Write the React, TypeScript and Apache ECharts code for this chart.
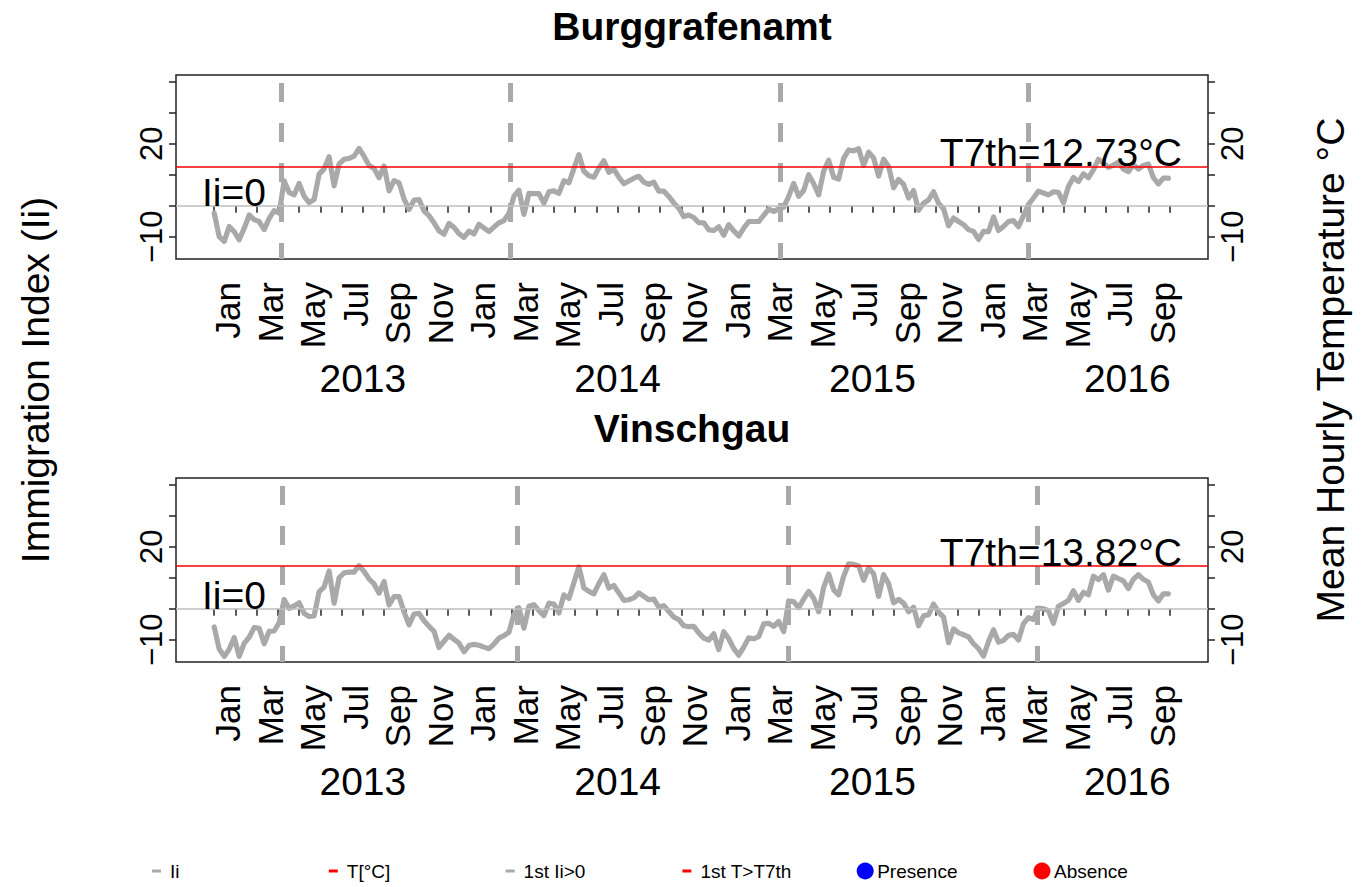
import React, { useEffect, useRef } from 'react';
import * as echarts from 'echarts';

// ---------- data ----------
const DAY = 86400000;
const SERIES_START = '2013-01-01'; // weekly samples from this date
const AXIS_START = '2013-01-01';
const AXIS_END = '2016-09-01';

const regions = ['Burggrafenamt', 'Vinschgau'];
const t7th = [12.73, 13.82];

// weekly Immigration Index values, Burggrafenamt
const burgIi = [
  -2.4, -10.0, -11.5, -6.7, -8.4, -11.0, -7.3, -3.0, -4.5, -5.1,
  -7.7, -4.1, -1.6, -2.4, 8.0, 4.3, 3.5, 7.2, 3.0, 1.0,
  2.0, 10.2, 11.9, 15.8, 6.4, 13.5, 15.0, 15.3, 16.0, 18.5,
  15.9, 13.0, 12.0, 9.0, 12.8, 4.8, 8.1, 7.4, 2.2, -1.2,
  1.8, 2.0, -1.7, -3.2, -5.5, -8.1, -9.2, -5.7, -7.0, -9.0,
  -10.2, -8.2, -9.1, -6.0, -7.2, -8.3, -6.9, -5.5, -4.8, -2.5,
  3.1, 5.0, -2.8, 4.0, 3.9, 3.9, 0.8, 4.5, 4.8, 4.0,
  8.1, 7.4, 12.0, 16.5, 11.1, 9.7, 9.2, 12.2, 14.5, 10.8,
  11.8, 9.2, 7.1, 8.0, 8.9, 9.5, 7.6, 6.9, 7.6, 4.7,
  4.7, 3.0, 0.9, -0.8, -3.5, -3.0, -3.8, -5.5, -5.5, -7.8,
  -8.0, -6.8, -9.5, -6.1, -8.1, -9.8, -7.2, -5.1, -5.1, -5.1,
  -3.1, -1.1, -1.8, -1.0, -0.5, 3.0, 7.2, 3.0, 4.9, 10.0,
  7.1, 3.5, 11.2, 14.7, 9.2, 8.6, 15.3, 18.0, 17.7, 18.4,
  13.0, 17.3, 15.4, 9.6, 15.0, 12.7, 5.8, 8.5, 6.9, 2.5,
  4.9, -1.5, 0.8, 1.9, 4.5, 0.8, -1.0, -6.5, -4.0, -5.1,
  -6.1, -7.7, -8.3, -10.9, -8.3, -8.4, -3.6, -8.0, -6.7, -5.1,
  -4.8, -6.8, -3.2, 0.4, 2.5, 4.7, 4.1, 3.5, 4.5, 4.3,
  1.0, 6.2, 9.1, 7.8, 10.3, 9.0, 11.6, 15.0, 13.7, 12.4,
  13.1, 14.0, 11.8, 11.0, 13.3, 11.8, 13.0, 13.5, 9.1, 7.0,
  8.9, 8.9,
];

// weekly Immigration Index values, Vinschgau
const vinIi = [
  -5.9, -13.0, -15.4, -13.1, -9.3, -15.4, -11.2, -9.2, -6.1, -6.3,
  -11.3, -7.3, -7.2, -4.5, 3.0, 0.1, 0.9, 1.9, -1.5, -2.5,
  -2.3, 5.5, 7.0, 12.2, 1.8, 10.0, 11.6, 11.8, 11.8, 13.9,
  12.0, 9.6, 8.0, 5.0, 8.8, 1.2, 3.9, 3.9, -1.0, -5.2,
  -1.7, -1.5, -3.9, -5.7, -7.3, -12.5, -10.5, -8.6, -9.9, -11.1,
  -13.9, -11.9, -11.5, -11.8, -12.4, -12.9, -11.4, -9.5, -8.7, -7.6,
  -1.8, 0.3, -6.3, 0.8, 1.3, -0.6, -2.2, 1.8, 1.5, -1.4,
  4.5, 3.3, 8.4, 13.5, 6.7, 5.6, 4.8, 8.1, 11.0, 6.7,
  7.5, 5.1, 2.7, 2.9, 3.5, 5.1, 4.0, 2.9, 3.1, 0.5,
  1.0, -0.9, -2.7, -3.5, -5.5, -5.8, -5.7, -7.8, -9.5, -10.1,
  -8.1, -13.2, -7.4, -9.7, -12.9, -15.0, -12.4, -9.4, -9.7, -9.0,
  -4.9, -4.7, -5.7, -4.1, -7.4, 2.5, 2.3, 0.3, 3.1, 5.6,
  3.4, -1.0, 6.9, 11.2, 6.1, 4.5, 10.5, 14.5, 14.3, 13.8,
  9.2, 13.2, 11.3, 4.0, 11.0, 8.1, 1.9, 3.0, 1.8, -1.0,
  0.5, -5.5, -2.3, -1.9, 1.5, -1.1, -2.7, -11.0, -6.5, -7.8,
  -8.4, -9.1, -11.3, -12.9, -15.3, -10.6, -6.8, -10.8, -10.2, -8.6,
  -8.3, -10.1, -4.8, -2.9, -3.5, 0.2, 0.0, -0.6, -4.7, 0.8,
  1.7, 2.7, 5.8, 2.7, 5.3, 4.5, 10.5, 9.4, 11.0, 6.0,
  10.5, 9.7, 9.0, 6.5, 9.5, 11.0, 9.5, 8.6, 4.5, 2.5,
  4.8, 4.8,
];

// first day with Ii > 0 in each season
const firstIiPositive = [
  ['2013-04-05', '2014-02-20', '2015-03-05', '2016-02-15'],
  ['2013-04-07', '2014-03-01', '2015-03-17', '2016-02-28'],
];

const monthLabels = [
  'Jan', 'Mar', 'May', 'Jul', 'Sep', 'Nov',
  'Jan', 'Mar', 'May', 'Jul', 'Sep', 'Nov',
  'Jan', 'Mar', 'May', 'Jul', 'Sep', 'Nov',
  'Jan', 'Mar', 'May', 'Jul', 'Sep',
];
const yearLabels = ['2013', '2014', '2015', '2016'];
const yearTickIndex = [7, 19, 31, 43];
const N_TICKS = 46;
const MONTH_LABEL_SHIFT_DAYS = 19;

const yTicks = [-10, 0, 10, 20, 30, 40];
const yLabelValues = [-10, 20];
const Y_MIN = -17.2;
const Y_MAX = 42.2;

const legendLabels = ['Ii', 'T[°C]', '1st Ii>0', '1st T>T7th', 'Presence', 'Absence'];
const legendColors = ['#A9A9A9', '#FF0000', '#A9A9A9', '#FF0000', '#0000FF', '#FF0000'];
const legendKinds = ['dash', 'dash', 'dash', 'dash', 'dot', 'dot'];

// ---------- option ----------
const FONT = "'Liberation Sans', Arial, Helvetica, sans-serif";
const GRAY = '#A9A9A9';

function buildOption() {
  const start = Date.parse(AXIS_START);
  const end = Date.parse(AXIS_END);
  const pad = 0.04 * (end - start);
  const xMin = start - pad;
  const xMax = end + pad;
  const seriesStart = Date.parse(SERIES_START);

  const tickTimes = Array.from({ length: N_TICKS }, (_, j) =>
    Math.round(start + (j * (end - start)) / (N_TICKS - 1))
  );
  const monthTimes = monthLabels.map((_, i) =>
    Math.round(tickTimes[2 * i] + MONTH_LABEL_SHIFT_DAYS * DAY)
  );
  const monthMap = new Map<number, string>(monthTimes.map((t, i) => [t, monthLabels[i]]));
  const yearTimes = yearTickIndex.map((j) => tickTimes[j]);
  const yearMap = new Map<number, string>(yearTimes.map((t, i) => [t, yearLabels[i]]));

  const grids = [
    { left: 176, top: 75, width: 1032, height: 184 },
    { left: 176, top: 478, width: 1032, height: 184 },
  ].map((g) => ({
    ...g,
    show: true,
    borderColor: '#222',
    borderWidth: 1.5,
    backgroundColor: 'transparent',
    containLabel: false,
    outerBoundsMode: 'none',
  }));

  const xAxis: any[] = [];
  const yAxis: any[] = [];
  [0, 1].forEach((gi) => {
    xAxis.push({
      type: 'value',
      gridIndex: gi,
      min: xMin,
      max: xMax,
      position: 'bottom',
      axisLine: { show: false },
      splitLine: { show: false },
      axisTick: {
        show: true,
        inside: false,
        length: 7,
        customValues: tickTimes,
        lineStyle: { color: '#222', width: 1.5 },
      },
      axisLabel: {
        show: true,
        customValues: monthTimes,
        rotate: 90,
        margin: 23,
        fontSize: 35,
        color: '#000',
        fontFamily: FONT,
        showMinLabel: true,
        showMaxLabel: true,
        formatter: (v: number) => monthMap.get(Math.round(v)) ?? '',
      },
    });
    xAxis.push({
      type: 'value',
      gridIndex: gi,
      min: xMin,
      max: xMax,
      position: 'bottom',
      axisLine: { show: false },
      splitLine: { show: false },
      axisTick: { show: false },
      axisLabel: {
        show: true,
        customValues: yearTimes,
        margin: 100,
        fontSize: 39,
        color: '#000',
        fontFamily: FONT,
        formatter: (v: number) => yearMap.get(Math.round(v)) ?? '',
      },
    });
    ['left', 'right'].forEach((pos) => {
      yAxis.push({
        type: 'value',
        gridIndex: gi,
        position: pos,
        min: Y_MIN,
        max: Y_MAX,
        axisLine: { show: false },
        splitLine: { show: false },
        axisTick: {
          show: true,
          inside: false,
          length: 7,
          customValues: yTicks,
          lineStyle: { color: '#222', width: 1.5 },
        },
        axisLabel: {
          show: true,
          customValues: yLabelValues,
          rotate: 90,
          margin: 9,
          fontSize: 31,
          color: '#000',
          fontFamily: FONT,
          formatter: (v: number) => (v < 0 ? '\u2212' + Math.abs(v) : String(v)),
        },
      });
    });
  });

  const allIi = [burgIi, vinIi];
  const series: any[] = [];
  [0, 1].forEach((gi) => {
    const xi = gi * 2;
    const yi = gi * 2;
    series.push({
      type: 'line',
      name: 'Ii ' + regions[gi],
      xAxisIndex: xi,
      yAxisIndex: yi,
      data: allIi[gi].map((v, k) => [seriesStart + k * 7 * DAY, v]),
      showSymbol: false,
      symbol: 'none',
      lineStyle: { color: GRAY, width: 5.2, join: 'round', cap: 'round' },
      z: 2,
      silent: true,
    });
    // dashed lines: first Ii > 0
    series.push({
      type: 'line',
      xAxisIndex: xi,
      yAxisIndex: yi,
      data: [],
      z: 3,
      silent: true,
      markLine: {
        silent: true,
        symbol: ['none', 'none'],
        animation: false,
        label: { show: false },
        lineStyle: { color: GRAY, width: 5, type: [19, 21], dashOffset: 3, cap: 'butt' },
        emphasis: { disabled: true },
        data: firstIiPositive[gi].map((d) => [
          { coord: [Date.parse(d), Y_MIN] },
          { coord: [Date.parse(d), Y_MAX] },
        ]),
      },
    });
    // horizontal reference lines
    series.push({
      type: 'line',
      xAxisIndex: xi,
      yAxisIndex: yi,
      data: [],
      z: 4,
      silent: true,
      markLine: {
        silent: true,
        symbol: ['none', 'none'],
        animation: false,
        emphasis: { disabled: true },
        data: [
          {
            yAxis: 0,
            lineStyle: { color: '#BEBEBE', width: 1.5, type: 'solid' },
            label: {
              show: true,
              formatter: 'Ii=0',
              position: 'insideStartTop',
              distance: [26, -6],
              fontSize: 39,
              color: '#000',
              fontFamily: FONT,
            },
          },
          {
            yAxis: t7th[gi],
            lineStyle: { color: '#FF0000', width: 1.5, type: 'solid' },
            label: {
              show: true,
              formatter: 'T7th=' + t7th[gi].toFixed(2) + '°C',
              position: 'insideEndTop',
              distance: [26, -6],
              fontSize: 39,
              color: '#000',
              fontFamily: FONT,
            },
          },
        ],
      },
    });
  });

  const graphic: any[] = [
    {
      type: 'text',
      x: 692,
      y: 26,
      style: {
        text: regions[0],
        font: `bold 39px ${FONT}`,
        fill: '#000',
        align: 'center',
        verticalAlign: 'middle',
      },
    },
    {
      type: 'text',
      x: 692,
      y: 428,
      style: {
        text: regions[1],
        font: `bold 39px ${FONT}`,
        fill: '#000',
        align: 'center',
        verticalAlign: 'middle',
      },
    },
    {
      type: 'text',
      x: 35,
      y: 380,
      rotation: Math.PI / 2,
      style: {
        text: 'Immigration Index (Ii)',
        font: `39px ${FONT}`,
        fill: '#000',
        align: 'center',
        verticalAlign: 'middle',
      },
    },
    {
      type: 'text',
      x: 1330,
      y: 370,
      rotation: Math.PI / 2,
      style: {
        text: 'Mean Hourly Temperature °C',
        font: `39px ${FONT}`,
        fill: '#000',
        align: 'center',
        verticalAlign: 'middle',
      },
    },
  ];

  legendLabels.forEach((lab, i) => {
    const x0 = 170 + 176.8 * i;
    const cy = 871;
    if (legendKinds[i] === 'dash') {
      graphic.push({
        type: 'rect',
        shape: { x: x0 - 18, y: cy - 1.5, width: 9, height: 3 },
        style: { fill: legendColors[i] },
      });
    } else {
      graphic.push({
        type: 'circle',
        shape: { cx: x0 - 12, cy, r: 8.5 },
        style: { fill: legendColors[i] },
      });
    }
    graphic.push({
      type: 'text',
      x: x0,
      y: cy,
      style: {
        text: lab,
        font: `19px ${FONT}`,
        fill: '#000',
        align: 'left',
        verticalAlign: 'middle',
      },
    });
  });

  return {
    animation: false,
    backgroundColor: '#fff',
    textStyle: { fontFamily: FONT },
    grid: grids,
    xAxis,
    yAxis,
    series,
    graphic,
  };
}

export default function App() {
  const ref = useRef<HTMLDivElement>(null);
  useEffect(() => {
    document.body.style.margin = '0';
    document.body.style.overflow = 'hidden';
    if (!ref.current) return;
    const chart = echarts.init(ref.current, undefined, { renderer: 'svg' });
    chart.setOption(buildOption() as any);
    return () => {
      chart.dispose();
    };
  }, []);
  return <div ref={ref} style={{ width: 1364, height: 887 }} />;
}
